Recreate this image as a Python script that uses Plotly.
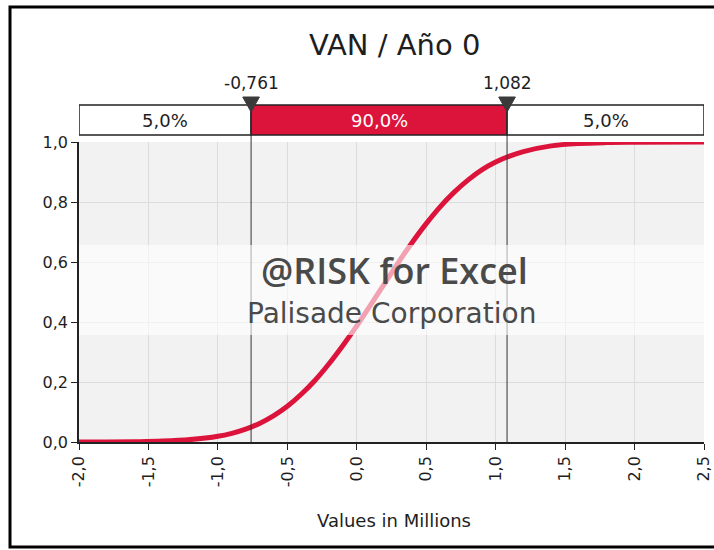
import plotly.graph_objects as go

# Data
x_vals = [-2.0, -1.8, -1.6, -1.4, -1.2, -1.0, -0.9, -0.8, -0.7, -0.6, -0.5, -0.4, -0.3,
          -0.2, -0.1, 0.0, 0.1, 0.2, 0.3, 0.4, 0.5, 0.6, 0.7, 0.8, 0.9, 1.0, 1.1, 1.2,
          1.4, 1.6, 1.8, 2.0, 2.5]
cdf_vals = [0.000, 0.000, 0.001, 0.003, 0.008, 0.019, 0.029, 0.043, 0.062, 0.087, 0.119,
            0.159, 0.206, 0.261, 0.322, 0.387, 0.457, 0.528, 0.599, 0.666, 0.728, 0.784,
            0.832, 0.873, 0.907, 0.933, 0.953, 0.968, 0.987, 0.995, 0.998, 0.999, 1.000]
left_cut = -0.761
right_cut = 1.082
pct_labels = ["5,0%", "90,0%", "5,0%"]
cut_labels = ["-0,761", "1,082"]
title_text = "VAN / Año 0"
x_title = "Values in Millions"
x_ticks = [-2.0, -1.5, -1.0, -0.5, 0.0, 0.5, 1.0, 1.5, 2.0, 2.5]
x_ticktext = ["-2,0", "-1,5", "-1,0", "-0,5", "0,0", "0,5", "1,0", "1,5", "2,0", "2,5"]
y_ticks = [0.0, 0.2, 0.4, 0.6, 0.8, 1.0]
y_ticktext = ["0,0", "0,2", "0,4", "0,6", "0,8", "1,0"]

W, H = 714, 550
L, R, T, B = 79, 10, 142, 108
PW = W - L - R
PH = H - T - B
XMIN, XMAX = -2.0, 2.5
RED = "#dc143c"
FONT = "DejaVu Sans"
TXT = "#1e1e1e"


def px(xp):
    return (xp - L) / PW


def py(yp):
    return (H - B - yp) / PH


fig = go.Figure()
fig.add_trace(go.Scatter(x=x_vals, y=cdf_vals, mode="lines",
                         line=dict(color=RED, width=5, shape="spline"),
                         hoverinfo="skip", showlegend=False))

shapes = []
# outer frame
shapes.append(dict(type="rect", xref="paper", yref="paper",
                   x0=px(10), x1=px(730), y0=py(547), y1=py(7),
                   line=dict(color="black", width=3), fillcolor="rgba(0,0,0,0)", layer="below"))
# percent bar segments
bar_y0, bar_y1 = py(135), py(105)
segs = [(XMIN, left_cut, "white"), (left_cut, right_cut, RED), (right_cut, XMAX, "white")]
for a, b, c in segs:
    shapes.append(dict(type="rect", xref="x", yref="paper", x0=a, x1=b, y0=bar_y0, y1=bar_y1,
                       fillcolor=c, line=dict(color="#222222", width=1.5), layer="above"))
# cut lines and markers
for cv in (left_cut, right_cut):
    shapes.append(dict(type="line", xref="x", yref="paper", x0=cv, x1=cv, y0=0, y1=bar_y1,
                       line=dict(color="#333333", width=1), layer="above"))
    tri = f"M {cv-0.06},{py(97)} L {cv+0.06},{py(97)} L {cv},{py(112)} Z"
    shapes.append(dict(type="path", xref="x", yref="paper", path=tri,
                       fillcolor="#3a3a3a", line=dict(color="#3a3a3a", width=1), layer="above"))
# watermark band
shapes.append(dict(type="rect", xref="paper", yref="paper", x0=0, x1=1, y0=py(335), y1=py(245),
                   fillcolor="rgba(255,255,255,0.6)", line=dict(width=0), layer="above"))

annotations = []


def ann(x, y, text, size, color=TXT, xref="paper", family=FONT, weight="normal"):
    annotations.append(dict(x=x, y=y, xref=xref, yref="paper", text=text,
                            showarrow=False, xanchor="center", yanchor="middle",
                            font=dict(family=family, size=size, color=color, weight=weight)))


centers = [(XMIN + left_cut) / 2, (left_cut + right_cut) / 2, (right_cut + XMAX) / 2]
colors = [TXT, "white", TXT]
for cx, t, c in zip(centers, pct_labels, colors):
    ann(cx, py(121), t, 18, c, xref="x")
for cv, t in zip((left_cut, right_cut), cut_labels):
    ann(cv, py(83), t, 17, xref="x")
ann(px(394), py(45), title_text, 29)
ann(px(394), py(520), x_title, 18)
ann(px(394), py(270), "@RISK for Excel", 36, "#4a4a4a", family="Open Sans", weight=600)
ann(px(391), py(313), "Palisade Corporation", 28, "#4a4a4a")

axis_common = dict(showgrid=True, gridcolor="#dcdcdc", gridwidth=1, zeroline=False,
                   showline=True, linecolor="#222222", linewidth=1.5,
                   ticks="outside", ticklen=6, tickcolor="#222222",
                   ticklabeloverflow="allow",
                   tickfont=dict(family=FONT, size=16, color=TXT))

fig.update_layout(
    width=W, height=H,
    margin=dict(l=L, r=R, t=T, b=B, autoexpand=False),
    paper_bgcolor="white", plot_bgcolor="#f2f2f2",
    shapes=shapes, annotations=annotations,
    showlegend=False,
    xaxis=dict(range=[XMIN, XMAX], tickvals=x_ticks, ticktext=x_ticktext, tickangle=-90,
               **axis_common),
    yaxis=dict(range=[0, 1], tickvals=y_ticks, ticktext=y_ticktext, **axis_common),
)

fig.write_html("out.html", config={"displayModeBar": False},
               post_script="document.body.style.margin='0';document.body.style.overflow='hidden';")
